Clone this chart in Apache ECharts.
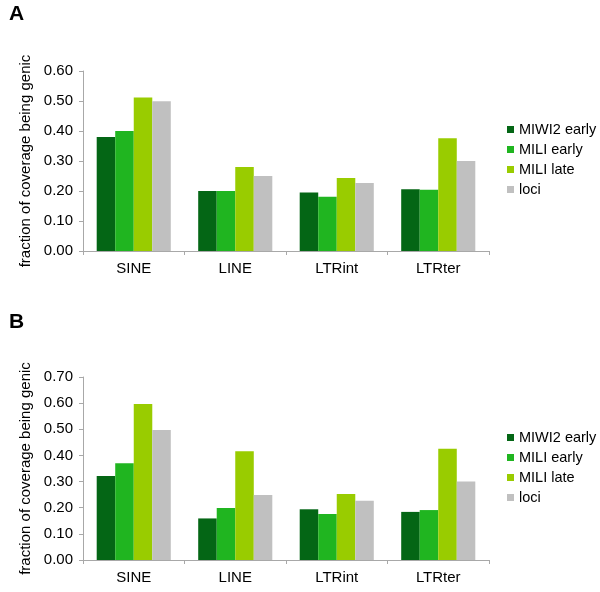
<!DOCTYPE html>
<html><head><meta charset="utf-8">
<script src="https://cdn.jsdelivr.net/npm/echarts@6/dist/echarts.min.js"></script>
<style>html,body{margin:0;padding:0;background:#fff}#c{width:600px;height:592px}</style>
</head><body><div id="c"></div>
<script>
const categories = ['SINE', 'LINE', 'LTRint', 'LTRter'];
const seriesNames = ['MIWI2 early', 'MILI early', 'MILI late', 'loci'];
const colors = ['#046615', '#20b520', '#99cc00', '#c0c0c0'];
// Panel A
const a_miwi2Early = [0.38, 0.20, 0.195, 0.206];
const a_miliEarly  = [0.40, 0.20, 0.181, 0.204];
const a_miliLate   = [0.512, 0.28, 0.243, 0.376];
const a_loci       = [0.499, 0.25, 0.227, 0.30];
// Panel B
const b_miwi2Early = [0.321, 0.159, 0.194, 0.184];
const b_miliEarly  = [0.37, 0.199, 0.176, 0.191];
const b_miliLate   = [0.597, 0.416, 0.252, 0.426];
const b_loci       = [0.497, 0.249, 0.227, 0.30];
const aTicksMax = 0.6, bTicksMax = 0.7;

const panelA = [a_miwi2Early, a_miliEarly, a_miliLate, a_loci];
const panelB = [b_miwi2Early, b_miliEarly, b_miliLate, b_loci];
const font = 'Liberation Sans, Arial, Helvetica, sans-serif';

function xAxis(gi) {
  return {
    type: 'category', gridIndex: gi, data: categories,
    axisLine: {lineStyle: {color: '#a8a8a8', width: 1}},
    axisTick: {show: true, length: 4, lineStyle: {color: '#a8a8a8'}},
    axisLabel: {color: '#000', fontSize: 15, fontFamily: font, margin: 10}
  };
}
function yAxis(gi, max) {
  return {
    type: 'value', gridIndex: gi, min: 0, max: max, interval: 0.1,
    name: 'fraction of coverage being genic', nameLocation: 'middle', nameGap: 44,
    nameTextStyle: {color: '#000', fontSize: 15, fontFamily: font},
    axisLine: {show: true, lineStyle: {color: '#a8a8a8', width: 1}},
    axisTick: {show: true, length: 4, lineStyle: {color: '#a8a8a8'}},
    splitLine: {show: false},
    axisLabel: {color: '#000', fontSize: 15, fontFamily: font, margin: 10,
      formatter: v => v.toFixed(2)}
  };
}
const series = [];
[panelA, panelB].forEach((panel, gi) => {
  panel.forEach((vals, i) => {
    series.push({
      type: 'bar', name: seriesNames[i], xAxisIndex: gi, yAxisIndex: gi,
      data: vals, itemStyle: {color: colors[i]},
      barGap: '0%', barCategoryGap: '27%', animation: false
    });
  });
});
function legend(top) {
  return {
    data: seriesNames, orient: 'vertical', left: 502, top: top,
    itemWidth: 7, itemHeight: 7, itemGap: 5, icon: 'rect',
    textStyle: {color: '#000', fontSize: 14.5, fontFamily: font}
  };
}
const chart = echarts.init(document.getElementById('c'), null, {renderer: 'canvas'});
chart.setOption({
  animation: false,
  title: [
    {text: 'A', left: 9, top: 4, padding: 0, textStyle: {fontSize: 21, fontWeight: 'bold', fontFamily: font, color: '#000'}},
    {text: 'B', left: 9, top: 312, padding: 0, textStyle: {fontSize: 21, fontWeight: 'bold', fontFamily: font, color: '#000'}}
  ],
  legend: [legend(117), legend(425)],
  grid: [
    {left: 83, right: 111, top: 71, height: 180},
    {left: 83, right: 111, top: 377, height: 183}
  ],
  xAxis: [xAxis(0), xAxis(1)],
  yAxis: [yAxis(0, aTicksMax), yAxis(1, bTicksMax)],
  series: series
});
</script></body></html>
